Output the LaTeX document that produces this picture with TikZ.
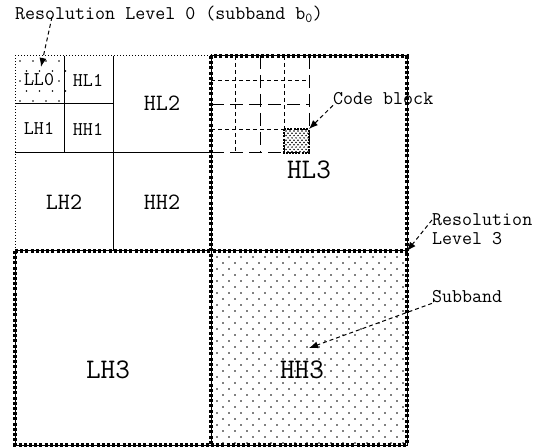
\documentclass[tikz,border=0pt]{standalone}
\usepackage{fontspec}
\usetikzlibrary{arrows.meta}

\begin{document}
\begin{tikzpicture}[x=1bp,y=-1bp,
  every node/.style={font=\ttfamily\fontsize{19.5}{20}\selectfont,inner sep=0pt},
  big2/.style={font=\ttfamily\fontsize{23.5}{25}\selectfont},
  big3/.style={font=\ttfamily\fontsize{28.5}{30}\selectfont},
  solidline/.style={line width=1bp},
  finedots/.style={line width=1bp,dash pattern=on 1bp off 2bp},
  beads/.style={line width=1bp,postaction={draw,line width=3.6bp,dash pattern=on 3bp off 2.2bp}},
  shortdash/.style={line width=0.9bp,dash pattern=on 4bp off 3bp},
  longdash/.style={line width=1bp,dash pattern=on 13bp off 6bp},
  pointer/.style={line width=1bp,dash pattern=on 4bp off 3bp,-{Latex[length=9bp,width=7bp]}}]
\useasboundingbox (0,0) rectangle (551,448);

% dot fills
\foreach \r [evaluate=\r as \shiftx using {6.5*mod(\r,2)}] in {0,...,4}
  \foreach \c in {0,...,3}
    \fill (20+13*\c+\shiftx,61+10*\r) circle (0.8bp);
\foreach \r [evaluate=\r as \shiftx using {6*mod(\r,2)}] in {0,...,31}
  \foreach \c in {0,...,15}
    \fill (217+12*\c+\shiftx,257+6*\r) circle (0.8bp);
\foreach \r [evaluate=\r as \shiftx using {2*mod(\r,2)}] in {0,...,9}
  \foreach \c in {0,...,5}
    \fill (286+4*\c+\shiftx,131+2.3*\r) circle (0.85bp);

% level 0-2 quadrant
\draw[finedots] (15,251) -- (15,56) -- (211,56);
\draw[solidline] (64,56) -- (64,153);
\draw[solidline] (15,104) -- (113,104);
\draw[solidline] (113,56) -- (113,251);
\draw[solidline] (15,153) -- (211,153);

% code blocks in HL3
\foreach \x in {235,284} \draw[shortdash] (\x,56) -- (\x,153);
\foreach \y in {80,129} \draw[shortdash] (211,\y) -- (309,\y);
\foreach \x in {260,309} \draw[longdash] (\x,56) -- (\x,153);
\foreach \y in {105,153} \draw[longdash] (211,\y) -- (309,\y);
\draw[line width=2.4bp,dash pattern=on 2bp off 1.2bp] (284,129) rectangle (309,153);

% level 3 borders
\draw[beads] (15,251) -- (15,445) -- (407,445) -- (407,56) -- (211,56);
\draw[beads] (211,56) -- (211,445);
\draw[beads] (15,251) -- (407,251);

% subband names
\node (ll0) at (39,80) {LL0};
\node (hl1) at (88,80) {HL1};
\node (lh1) at (39,128) {LH1};
\node (hh1) at (88,129) {HH1};
\node[big2] (hl2) at (162,103) {HL2};
\node[big2] (lh2) at (64,202) {LH2};
\node[big2] (hh2) at (162,202) {HH2};
\node[big3] (hl3) at (309,170) {HL3};
\node[big3] (lh3) at (108,370) {LH3};
\node[big3] (hh3) at (302,370) {HH3};

% callouts
\node[anchor=west] (lvl0) at (15,14) {Resolution Level 0 (subband b\textsubscript{0})};
\node[anchor=west] (cbtext) at (333,99) {Code block};
\node[anchor=north west,align=left] (lvl3) at (432,213) {Resolution\\Level 3};
\node[anchor=west] (subtext) at (432,297) {Subband};
\coordinate (ll0tip) at (41,67);
\coordinate (cbtip) at (309,129);
\coordinate (lvl3tip) at (407,251);
\coordinate (hh3tip) at (309,348);

\draw[pointer] ([xshift=37bp,yshift=-3bp]lvl0.west) -- (ll0tip);
\draw[pointer] (cbtext.south west) -- (cbtip);
\draw[pointer] ([yshift=-7bp]lvl3.north west) -- (lvl3tip);
\draw[pointer] (subtext.south west) -- (hh3tip);
\end{tikzpicture}
\end{document}
